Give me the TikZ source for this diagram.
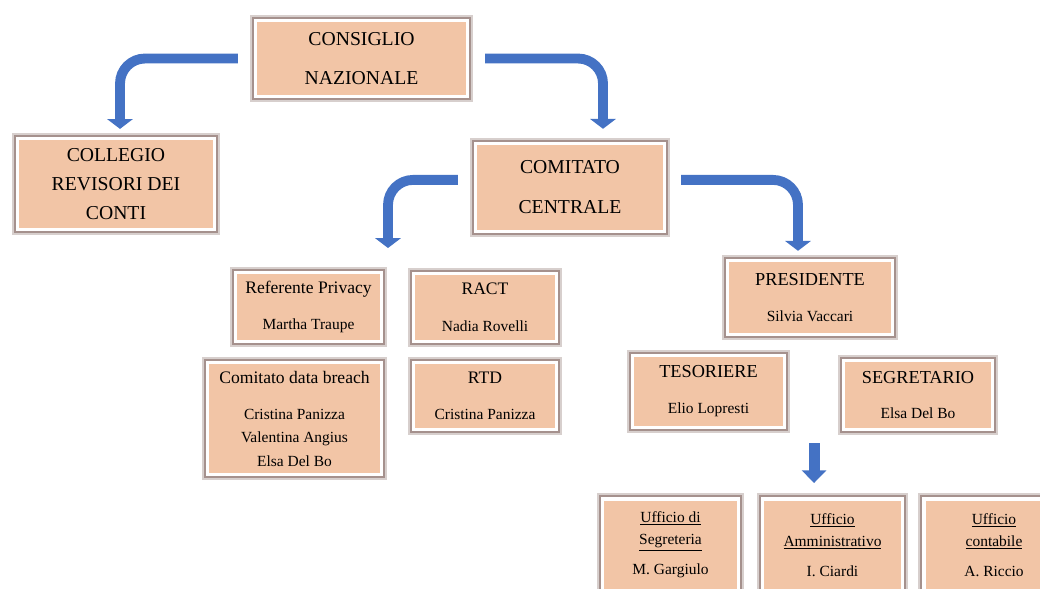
\documentclass[tikz,border=0pt]{standalone}
\usepackage{fontspec}
\setmainfont{Liberation Serif}
\usetikzlibrary{arrows.meta,calc}

\definecolor{peach}{HTML}{F2C5A6}
\definecolor{boxedge}{HTML}{8E7670}
\definecolor{arrowblue}{HTML}{4472C4}

\newcommand{\pname}[1]{{\fontsize{11}{13.5}\selectfont #1}}

\tikzset{
	orgbox/.style={rectangle, fill=peach, draw=white, line width=2.4pt,
		preaction={draw=boxedge!35, line width=8pt},
		preaction={draw=boxedge!80, line width=5.6pt},
		align=center, inner sep=0pt, text=black},
	bigbox/.style={orgbox, font=\fontsize{14}{17}\selectfont},
	midbox/.style={orgbox, font=\fontsize{12.5}{15}\selectfont},
	flow/.style={draw=arrowblue, line width=7pt, rounded corners=0.625cm,
		-{Triangle[width=18pt,length=7pt]}}
}

\begin{document}
\begin{tikzpicture}[x=0.025cm, y=-0.025cm]
	\clip (0,0) rectangle (1040,588);
	\fill[white] (0,0) rectangle (1040,588);

	% vertici
	\node[bigbox, minimum width=5.3cm, minimum height=1.9cm] (cn) at (361.5,58.5) {CONSIGLIO\\[10.7pt]NAZIONALE};
	\node[bigbox, minimum width=4.92cm, minimum height=2.27cm] (crc) at (116,184) {COLLEGIO\\[3.6pt]REVISORI DEI\\[3.6pt]CONTI};
	\node[bigbox, minimum width=4.72cm, minimum height=2.2cm] (cc) at (570,187.5) {COMITATO\\[11.4pt]CENTRALE};

	% staff
	\node[midbox, minimum width=3.65cm, minimum height=1.72cm] (privacy) at (308.5,307) {Referente Privacy\\[11pt]\pname{Martha Traupe}};
	\node[midbox, minimum width=3.57cm, minimum height=1.7cm] (ract) at (485,307.5) {RACT\\[11pt]\pname{Nadia Rovelli}};
	\node[midbox, minimum width=4.35cm, minimum height=2.8cm] (breach) at (294.5,418.5) {Comitato data breach\\[11pt]\pname{Cristina Panizza}\\[1.5pt]\pname{Valentina Angius}\\[1.5pt]\pname{Elsa Del Bo}};
	\node[midbox, minimum width=3.57cm, minimum height=1.67cm] (rtd) at (485,396) {RTD\\[11pt]\pname{Cristina Panizza}};

	% ufficio di presidenza
	\node[midbox, font=\fontsize{13}{15.5}\selectfont, minimum width=4.12cm, minimum height=1.85cm] (pres) at (810,297.5) {PRESIDENTE\\[10pt]\pname{Silvia Vaccari}};
	\node[midbox, font=\fontsize{13}{15.5}\selectfont, minimum width=3.8cm, minimum height=1.8cm] (tes) at (708.5,391.5) {TESORIERE\\[10pt]\pname{Elio Lopresti}};
	\node[midbox, font=\fontsize{13}{15.5}\selectfont, minimum width=3.72cm, minimum height=1.72cm] (seg) at (918,395) {SEGRETARIO\\[9pt]\pname{Elsa Del Bo}};

	% uffici
	\node[orgbox, font=\fontsize{11}{13.5}\selectfont, minimum width=3.4cm, minimum height=2.3cm] (useg) at (670.5,545) {\underline{Ufficio di}\\[2.2pt]\underline{Segreteria}\\[8pt]M. Gargiulo};
	\node[orgbox, font=\fontsize{11}{13.5}\selectfont, minimum width=3.5cm, minimum height=2.3cm] (uamm) at (832.5,545) {\underline{Ufficio}\\[2.2pt]\underline{Amministrativo}\\[8pt]I. Ciardi};
	\node[orgbox, font=\fontsize{11}{13.5}\selectfont, minimum width=3.5cm, minimum height=2.3cm] (ucont) at (994,545) {\underline{Ufficio}\\[2.2pt]\underline{contabile}\\[8pt]A. Riccio};

	% punte libere
	\coordinate (stafftip) at (388,248);
	\coordinate (uffroot) at ($(tes.south east)!0.5!(seg.south west) + (0,13)$);
	\coordinate (ufftip) at (uffroot |- 0,483);

	% frecce
	\draw[flow] ([xshift=-0.4cm]cn.west) -| ([xshift=0.1cm,yshift=0.2cm]crc.north);
	\draw[flow] ([xshift=0.4cm]cn.east) -| ([xshift=0.825cm,yshift=0.325cm]cc.north);
	\draw[flow] ([xshift=-0.4cm,yshift=0.19cm]cc.west) -| (stafftip);
	\draw[flow] ([xshift=0.375cm,yshift=0.19cm]cc.east) -| ([xshift=-0.3cm,yshift=0.2cm]pres.north);
	\draw[flow, line width=7.8pt, -{Triangle[width=17pt,length=9pt]}] (uffroot) -- (ufftip);
\end{tikzpicture}
\end{document}
